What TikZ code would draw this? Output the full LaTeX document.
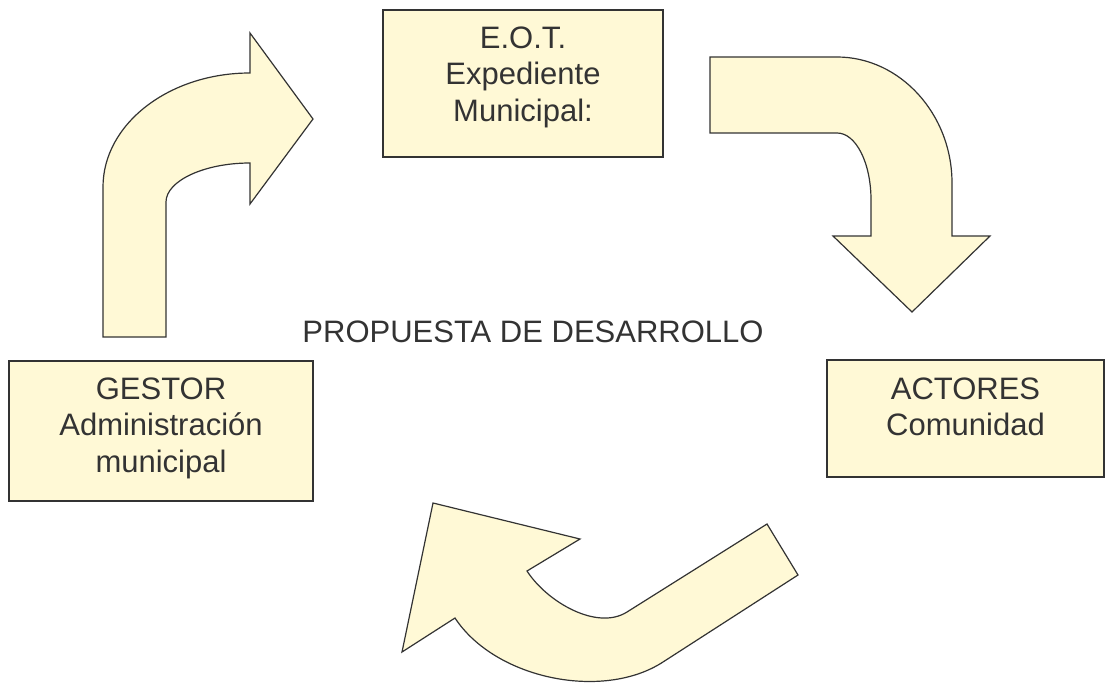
\documentclass[tikz,border=0pt]{standalone}
\usepackage{fontspec}
\setmainfont{Liberation Sans}
\definecolor{boxfill}{HTML}{FFF9D6}
\definecolor{ink}{HTML}{333333}
\begin{document}
\begin{tikzpicture}[x=1pt,y=-1pt,
  boxstyle/.style={draw=ink, fill=boxfill, line width=1.2pt, inner sep=0pt},
  txtstyle/.style={text=ink, align=center, inner sep=0pt, anchor=north,
    font=\fontsize{31}{36.5}\selectfont},
  bentarrow/.style={draw=ink, fill=boxfill, line width=1.2pt, line join=miter}]
\useasboundingbox (0,0) rectangle (1107,687);

% boxes
\node[boxstyle, minimum width=280, minimum height=147] (eot) at (523,83.5) {};
\node[boxstyle, minimum width=304, minimum height=140] (gestor) at (161,431) {};
\node[boxstyle, minimum width=277, minimum height=117] (actores) at (965.5,418.5) {};

\node[txtstyle] (eottxt) at ([yshift=-17pt]eot.north) {E.O.T.\\Expediente\\Municipal:};
\node[txtstyle] (gestortxt) at ([yshift=-17pt]gestor.north) {GESTOR\\Administración\\municipal};
\node[txtstyle] (actorestxt) at ([yshift=-18pt]actores.north) {ACTORES\\Comunidad};

\node[text=ink, inner sep=0pt, anchor=base, font=\fontsize{31}{36.5}\selectfont] (prop) at (533,342) {PROPUESTA DE DESARROLLO};

% top-left arrow (up then right)
\draw[bentarrow] (103,337) -- (103,187)
  .. controls (103,124) and (169,73) .. (250,73)
  -- (250,33) -- (313,119) -- (250,204) -- (250,163)
  .. controls (204,163) and (166,181) .. (166,202)
  -- (166,337) -- cycle;

% top-right arrow (right then down)
\draw[bentarrow] (710,57) -- (837,57)
  .. controls (900,57) and (952,114) .. (952,183)
  -- (952,236) -- (990,236) -- (912,312) -- (833,236) -- (871,236) -- (871,200)
  .. controls (871,163) and (856,133) .. (837,133)
  -- (710,133) -- cycle;

% bottom arrow (curving back up-left)
\draw[bentarrow] (767,524) -- (798,575) -- (663,662)
  .. controls (603,701) and (495,679) .. (455,618)
  -- (402,652) -- (433,503) -- (580,539) -- (527,571)
  .. controls (547,602) and (597,631) .. (627,612)
  -- cycle;
\end{tikzpicture}
\end{document}
